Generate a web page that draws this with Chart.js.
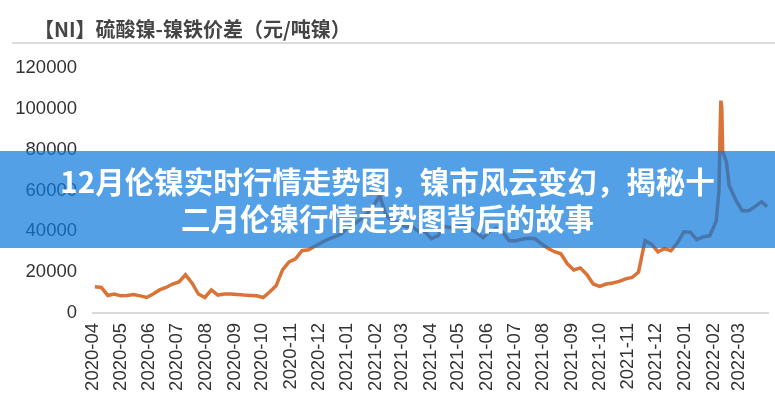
<!DOCTYPE html>
<html>
<head>
<meta charset="utf-8">
<script src="https://cdn.jsdelivr.net/npm/chart.js@4.4.1/dist/chart.umd.min.js"></script>
<style>
  html, body { margin: 0; padding: 0; background: #fff; }
  #wrap { position: relative; width: 775px; height: 400px; overflow: hidden; }
  #title { position: absolute; left: 34px; top: 14px; font: bold 20px "Noto Sans CJK SC", sans-serif; color: #454545; white-space: nowrap; }
  #rule { position: absolute; left: 12px; right: 0; top: 42px; height: 2px; background: #dcdcdc; }
  #chartBox { position: absolute; left: 0; top: 0; width: 775px; height: 400px; }
  #banner { position: absolute; left: 0; top: 151px; width: 775px; height: 97px; background: rgba(10,120,220,0.7);
            color: #fff; font: bold 29.5px "Noto Sans CJK SC", sans-serif; line-height: 37px; text-align: center;
            box-sizing: border-box; padding-top: 11px; }
</style>
</head>
<body>
<div id="wrap">
  <div id="chartBox"><canvas id="c" width="775" height="400"></canvas></div>
  <div id="title">【NI】硫酸镍-镍铁价差（元/吨镍）</div>
  <div id="rule"></div>
  <div id="banner">12月伦镍实时行情走势图，镍市风云变幻，揭秘十<br>二月伦镍行情走势图背后的故事</div>
</div>
<script>
// tick labels on the x axis (one per month)
var months = ["2020-04","2020-05","2020-06","2020-07","2020-08","2020-09","2020-10","2020-11","2020-12",
  "2021-01","2021-02","2021-03","2021-04","2021-05","2021-06","2021-07","2021-08","2021-09","2021-10",
  "2021-11","2021-12","2022-01","2022-02","2022-03"];

// observation dates (mostly weekly, denser around the Feb 2022 spike)
var dates = ["2020-04-03","2020-04-10","2020-04-17","2020-04-24","2020-05-01","2020-05-08","2020-05-15","2020-05-22","2020-05-29",
  "2020-06-05","2020-06-12","2020-06-19","2020-06-26","2020-07-03","2020-07-10","2020-07-17","2020-07-24","2020-07-31",
  "2020-08-07","2020-08-14","2020-08-21","2020-08-28","2020-09-04","2020-09-11","2020-09-18","2020-09-25",
  "2020-10-02","2020-10-09","2020-10-16","2020-10-23","2020-10-30","2020-11-06","2020-11-13","2020-11-20","2020-11-27",
  "2020-12-04","2020-12-11","2020-12-18","2020-12-25","2021-01-01","2021-01-08","2021-01-15","2021-01-22","2021-01-29",
  "2021-02-05","2021-02-12","2021-02-19","2021-02-26","2021-03-05","2021-03-12","2021-03-19","2021-03-26",
  "2021-04-02","2021-04-09","2021-04-16","2021-04-23","2021-04-30","2021-05-07","2021-05-14","2021-05-21","2021-05-28",
  "2021-06-04","2021-06-11","2021-06-18","2021-06-25","2021-07-02","2021-07-09","2021-07-16","2021-07-23","2021-07-30",
  "2021-08-06","2021-08-13","2021-08-20","2021-08-27","2021-09-03","2021-09-10","2021-09-17","2021-09-24",
  "2021-10-01","2021-10-08","2021-10-15","2021-10-22","2021-10-29","2021-11-05","2021-11-12","2021-11-19","2021-11-26",
  "2021-12-03","2021-12-10","2021-12-17","2021-12-24","2021-12-31","2022-01-07","2022-01-14","2022-01-21","2022-01-28",
  "2022-02-04","2022-02-07","2022-02-08","2022-02-09","2022-02-10","2022-02-11","2022-02-15","2022-02-18","2022-02-25",
  "2022-03-04","2022-03-11","2022-03-18","2022-03-25","2022-03-31"];

// spread, yuan per tonne of nickel
var spread = [12800,12500,8600,9300,8400,8600,9100,8400,7600,
  9300,11300,12500,14200,15200,18700,14700,9300,7600,
  11300,8800,9300,9300,9100,8800,8600,8400,
  7600,10300,13300,21100,25000,26500,30500,31000,32700,
  34400,36100,37300,38600,41500,43500,45700,48600,52100,
  57500,47700,45200,44000,42500,42300,40000,39800,
  36400,37800,42500,41800,42000,42800,41300,39300,36900,
  40000,41500,39800,35400,35400,36100,36600,36400,33900,
  31700,30000,29000,24100,21100,22100,18900,14200,
  13000,14200,14700,15500,16700,17400,20100,35400,33700,
  30000,31500,30500,34400,39800,39600,35900,37300,37800,
  45000,60000,85000,104000,101000,79000,74000,62400,55500,
  50100,50100,52100,54500,52100];

var yTicks = [0, 20000, 40000, 60000, 80000, 100000, 120000];

var points = dates.map(function(d, i) { return { x: Date.parse(d), y: spread[i] }; });
var monthStart = months.map(function(m) { return Date.parse(m + "-01"); });

new Chart(document.getElementById("c"), {
  type: 'line',
  data: {
    datasets: [{
      data: points,
      borderColor: '#DA7338',
      borderWidth: 3.5,
      pointRadius: 0,
      tension: 0,
      fill: false
    }]
  },
  options: {
    responsive: false,
    animation: false,
    layout: { padding: { top: 68, right: 7, left: 0, bottom: 0 } },
    plugins: { legend: { display: false }, tooltip: { enabled: false } },
    scales: {
      x: {
        type: 'linear',
        min: Date.parse("2020-04-01"),
        max: Date.parse("2022-04-01"),
        grid: { display: false, drawTicks: false },
        border: { display: true, color: '#dadada', width: 2 },
        afterBuildTicks: function(axis) {
          axis.ticks = monthStart.map(function(v) { return { value: v }; });
        },
        afterFit: function(axis) { axis.height = 87; },
        ticks: {
          autoSkip: false,
          minRotation: 90,
          maxRotation: 90,
          padding: 10,
          color: '#333',
          font: { family: 'Liberation Sans, Arial', size: 18.5 },
          callback: function(value, index) { return months[index]; }
        }
      },
      y: {
        min: 0,
        max: 120000,
        grid: { display: false, drawTicks: false },
        border: { display: false },
        afterBuildTicks: function(axis) {
          axis.ticks = yTicks.map(function(v) { return { value: v }; });
        },
        afterFit: function(axis) { axis.width = 93; },
        ticks: {
          padding: 16,
          color: '#333',
          font: { family: 'Liberation Sans, Arial', size: 18.5 },
          callback: function(value) { return String(value); }
        }
      }
    }
  }
});
</script>
</body>
</html>
